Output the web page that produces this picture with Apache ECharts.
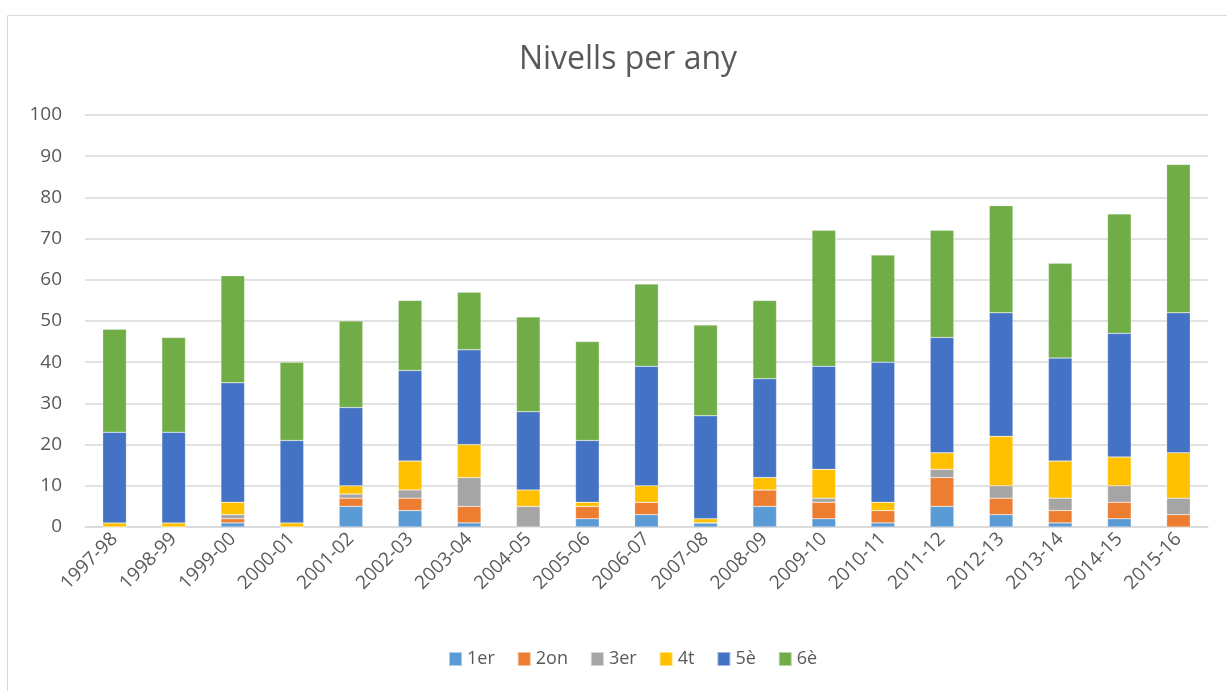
<!DOCTYPE html>
<html>
<head>
<meta charset="utf-8">
<script src="https://cdn.jsdelivr.net/npm/echarts@6/dist/echarts.min.js"></script>
<style>
  html, body { margin: 0; padding: 0; background: #fff; }
  #chart { width: 1227px; height: 691px; }
</style>
</head>
<body>
<div id="chart"></div>
<script>
// cursos
const years = ['1997-98', '1998-99', '1999-00', '2000-01', '2001-02', '2002-03', '2003-04',
  '2004-05', '2005-06', '2006-07', '2007-08', '2008-09', '2009-10', '2010-11', '2011-12',
  '2012-13', '2013-14', '2014-15', '2015-16']
// valors per nivell (llegits del gràfic)
const v1er = [0, 0, 1, 0, 5, 4, 1, 0, 2, 3, 1, 5, 2, 1, 5, 3, 1, 2, 0]
const v2on = [0, 0, 1, 0, 2, 3, 4, 0, 3, 3, 0, 4, 4, 3, 7, 4, 3, 4, 3]
const v3er = [0, 0, 1, 0, 1, 2, 7, 5, 0, 0, 0, 0, 1, 0, 2, 3, 3, 4, 4]
const v4t = [1, 1, 3, 1, 2, 7, 8, 4, 1, 4, 1, 3, 7, 2, 4, 12, 9, 7, 11]
const v5e = [22, 22, 29, 20, 19, 22, 23, 19, 15, 29, 25, 24, 25, 34, 28, 30, 25, 30, 34]
const v6e = [25, 23, 26, 19, 21, 17, 14, 23, 24, 20, 22, 19, 33, 26, 26, 26, 23, 29, 36]

const seriesDefs = [
  { name: '1er', data: v1er, color: '#5B9BD5' },
  { name: '2on', data: v2on, color: '#ED7D31' },
  { name: '3er', data: v3er, color: '#A5A5A5' },
  { name: '4t', data: v4t, color: '#FFC000' },
  { name: '5è', data: v5e, color: '#4472C4' },
  { name: '6è', data: v6e, color: '#70AD47' },
]

const font = '"Open Sans", sans-serif'
const chart = echarts.init(document.getElementById('chart'))

chart.setOption({
  animation: false,
  textStyle: { fontFamily: font },
  // marc del gràfic
  graphic: [{
    type: 'rect',
    shape: { x: 7.5, y: 15.5, width: 1300, height: 700 },
    style: { fill: 'none', stroke: '#d9d9d9', lineWidth: 1 },
    silent: true,
  }],
  title: {
    text: 'Nivells per any',
    left: 623,
    textAlign: 'center',
    top: 39,
    textStyle: { fontSize: 32, fontWeight: 'normal', color: '#595959', fontFamily: font },
  },
  legend: {
    bottom: 18,
    left: 443,
    itemWidth: 13,
    itemHeight: 14,
    itemGap: 22,
    icon: 'rect',
    textStyle: { fontSize: 18, color: '#595959', fontFamily: font },
  },
  grid: {
    left: 85,
    right: 19,
    top: 115,
    bottom: 164,
    containLabel: false,
  },
  xAxis: {
    type: 'category',
    data: years,
    axisLine: { lineStyle: { color: '#d9d9d9', width: 1.5 } },
    axisTick: { show: false },
    axisLabel: {
      rotate: 45,
      interval: 0,
      margin: 9,
      fontSize: 19,
      color: '#595959',
      fontFamily: font,
    },
  },
  yAxis: {
    type: 'value',
    min: 0,
    max: 100,
    interval: 10,
    axisLine: { show: false },
    axisTick: { show: false },
    splitLine: { lineStyle: { color: '#d9d9d9', width: 1.5 } },
    axisLabel: { fontSize: 19, color: '#595959', margin: 23, fontFamily: font },
  },
  series: seriesDefs.map(s => ({
    name: s.name,
    type: 'bar',
    stack: 'total',
    data: s.data,
    barWidth: '40%',
    itemStyle: { color: s.color, borderColor: 'rgba(255,255,255,0.5)', borderWidth: 0.5 },
  })),
})
</script>
</body>
</html>
